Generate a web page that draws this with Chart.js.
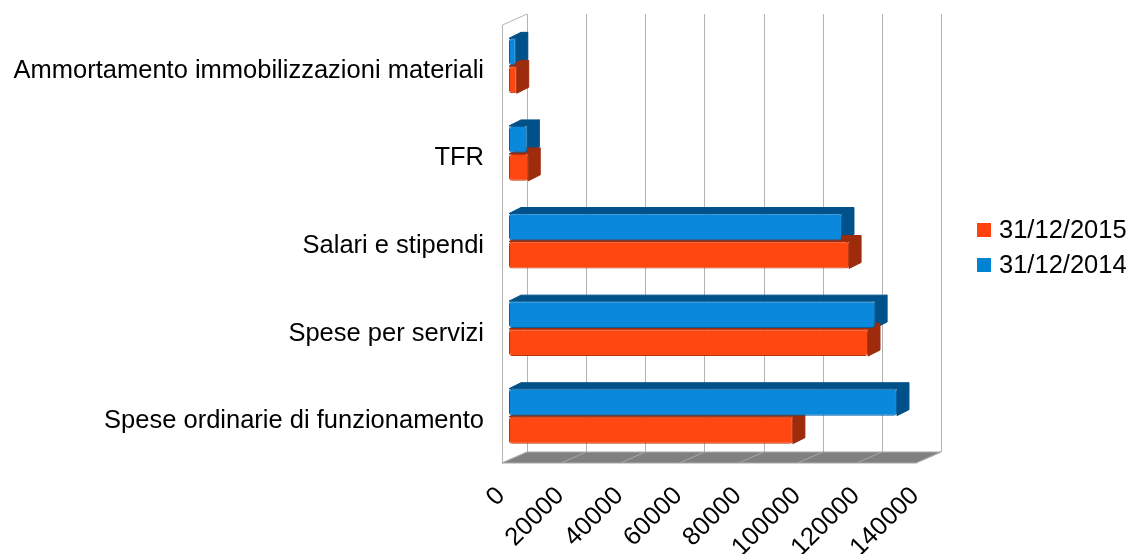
<!DOCTYPE html>
<html>
<head>
<meta charset="utf-8">
<title>Costi 2014 / 2015</title>
<script src="https://cdn.jsdelivr.net/npm/chart.js@4.4.1/dist/chart.umd.min.js"></script>
<style>
  html, body { margin: 0; padding: 0; background: #fff; }
  #wrap { width: 1132px; height: 554px; }
</style>
</head>
<body>
<div id="wrap"><canvas id="chart" width="1132" height="554"></canvas></div>
<script>
// Categories (top to bottom) and series values
const categories = [
  "Ammortamento immobilizzazioni materiali",
  "TFR",
  "Salari e stipendi",
  "Spese per servizi",
  "Spese ordinarie di funzionamento",
];
const values2014 = [2300, 6200, 112600, 123800, 131200];
const values2015 = [2600, 6500, 115000, 121400, 96000];
const seriesNames = ["31/12/2014", "31/12/2015"];
const xTicks = [0, 20000, 40000, 60000, 80000, 100000, 120000, 140000];

// Colours
const blueFront = "#0a88dc";
const blueSide = "#00518a";
const orangeFront = "#ff4711";
const orangeSide = "#9e2b0b";
const legendColors = ["#0084d1", "#ff420e"];

const FONT = "'Liberation Sans', Arial, sans-serif";
const FONT_SIZE = 25.5;

// depth offsets of the fake 3d box
const BAR_DX = 12, BAR_DY = 6;
const FRONT_DX = -7, FRONT_DY = 3;
const BACK_DX = 18, BACK_DY = -8;

function barFaces(ctx, bar, side) {
  const { x, y, base, height } = bar.getProps(["x", "y", "base", "height"], true);
  const top = y - height / 2;
  const bottom = y + height / 2;
  ctx.fillStyle = side;
  ctx.strokeStyle = side;
  ctx.lineWidth = 1;
  // top face
  ctx.beginPath();
  ctx.moveTo(base, top);
  ctx.lineTo(x, top);
  ctx.lineTo(x + BAR_DX, top - BAR_DY);
  ctx.lineTo(base + BAR_DX, top - BAR_DY);
  ctx.closePath();
  ctx.fill();
  ctx.stroke();
  // right face
  ctx.beginPath();
  ctx.moveTo(x, top);
  ctx.lineTo(x + BAR_DX, top - BAR_DY);
  ctx.lineTo(x + BAR_DX, bottom - BAR_DY);
  ctx.lineTo(x, bottom);
  ctx.closePath();
  ctx.fill();
  ctx.stroke();
}

const boxPlugin = {
  id: "box3d",
  beforeDatasetsDraw(chart) {
    const { ctx, chartArea: a, scales } = chart;
    const x = scales.x;
    const x0 = x.getPixelForValue(xTicks[0]);
    const x1 = x.getPixelForValue(xTicks[xTicks.length - 1]);
    ctx.save();

    // back wall grid lines
    ctx.strokeStyle = "#b3b3b3";
    ctx.lineWidth = 1;
    xTicks.forEach((v) => {
      const px = Math.round(x.getPixelForValue(v) + BACK_DX) + 0.5;
      ctx.beginPath();
      ctx.moveTo(px, a.top + BACK_DY);
      ctx.lineTo(px, a.bottom + BACK_DY);
      ctx.stroke();
    });

    // left wall outline
    ctx.beginPath();
    ctx.moveTo(x0 + FRONT_DX + 0.5, a.bottom + FRONT_DY);
    ctx.lineTo(x0 + FRONT_DX + 0.5, a.top + FRONT_DY);
    ctx.lineTo(x0 + BACK_DX, a.top + BACK_DY);
    ctx.stroke();

    // floor
    ctx.fillStyle = "#808080";
    ctx.beginPath();
    ctx.moveTo(x0 + FRONT_DX, a.bottom + FRONT_DY);
    ctx.lineTo(x1 + FRONT_DX, a.bottom + FRONT_DY);
    ctx.lineTo(x1 + BACK_DX, a.bottom + BACK_DY);
    ctx.lineTo(x0 + BACK_DX, a.bottom + BACK_DY);
    ctx.closePath();
    ctx.fill();
    ctx.strokeStyle = "#a8a8a8";
    ctx.stroke();
    xTicks.forEach((v) => {
      const px = x.getPixelForValue(v);
      ctx.beginPath();
      ctx.moveTo(px + FRONT_DX, a.bottom + FRONT_DY);
      ctx.lineTo(px + BACK_DX, a.bottom + BACK_DY);
      ctx.stroke();
    });

    // bar depth faces: upper series first, lower series over it
    chart.getDatasetMeta(0).data.forEach((bar) => barFaces(ctx, bar, blueSide));
    chart.getDatasetMeta(1).data.forEach((bar) => barFaces(ctx, bar, orangeSide));
    ctx.restore();
  },
};

const legendPlugin = {
  id: "sideLegend",
  afterDraw(chart) {
    const ctx = chart.ctx;
    ctx.save();
    ctx.font = FONT_SIZE + "px " + FONT;
    ctx.textBaseline = "middle";
    ctx.textAlign = "left";
    // 2015 first, as in the original legend
    [1, 0].forEach((i, row) => {
      const cy = 230 + row * 35;
      ctx.fillStyle = legendColors[i];
      ctx.fillRect(977, cy - 7, 14, 14);
      ctx.fillStyle = "#000";
      ctx.fillText(seriesNames[i], 999, cy + 1);
    });
    ctx.restore();
  },
};

Chart.defaults.font.family = FONT;
Chart.defaults.font.size = FONT_SIZE;
Chart.defaults.color = "#000";

new Chart(document.getElementById("chart"), {
  type: "bar",
  data: {
    labels: categories,
    datasets: [
      {
        label: seriesNames[0],
        data: values2014,
        backgroundColor: blueFront,
        borderColor: "#0a5f9a",
        borderWidth: 1,
        borderRadius: 3,
        borderSkipped: false,
        categoryPercentage: 0.64,
        barPercentage: 0.96,
      },
      {
        label: seriesNames[1],
        data: values2015,
        backgroundColor: orangeFront,
        borderColor: "#b8330c",
        borderWidth: 1,
        borderRadius: 3,
        borderSkipped: false,
        categoryPercentage: 0.64,
        barPercentage: 0.96,
      },
    ],
  },
  options: {
    indexAxis: "y",
    responsive: false,
    animation: false,
    layout: { padding: { left: 0, right: 209, top: 22, bottom: 0 } },
    plugins: {
      legend: { display: false },
      tooltip: { enabled: false },
    },
    scales: {
      x: {
        min: 0,
        max: 140000,
        afterBuildTicks: (s) => {
          s.ticks = xTicks.map((v) => ({ value: v }));
        },
        afterFit: (s) => {
          s.height = 94;
          s.paddingLeft = 0;
          s.paddingRight = 0;
        },
        grid: { display: false, drawTicks: false },
        border: { display: false },
        ticks: {
          autoSkip: false,
          minRotation: 45,
          maxRotation: 45,
          padding: 21,
          labelOffset: -8,
          callback: (v) => String(v),
        },
      },
      y: {
        afterFit: (s) => {
          s.width = 509;
          s.paddingTop = 0;
          s.paddingBottom = 0;
        },
        grid: { display: false, drawTicks: false },
        border: { display: false },
        ticks: { padding: 25, labelOffset: 5 },
      },
    },
  },
  plugins: [boxPlugin, legendPlugin],
});
</script>
</body>
</html>
